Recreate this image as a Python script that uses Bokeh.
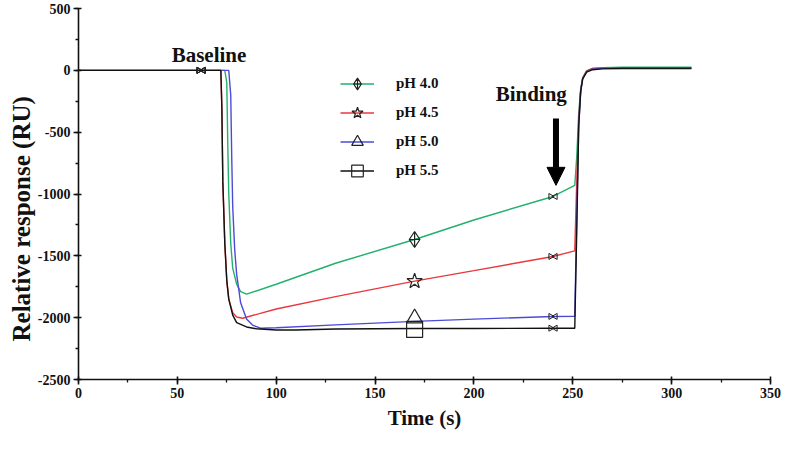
import numpy as np
from bokeh.plotting import figure
from bokeh.models import (Range1d, SingleIntervalTicker, Legend, LegendItem, Arrow, NormalHead,
                          Label, PrintfTickFormatter, Title)
from bokeh.embed import file_html
from bokeh.resources import INLINE

# ---- data ----
t_ph40 = [0, 74, 75, 75.5, 76, 77, 78, 80, 82, 85, 100, 130, 170, 200, 240, 251, 252, 253, 254, 255, 257, 260, 265, 275, 310]
y_ph40 = [0, 0, -100, -600, -1000, -1400, -1600, -1730, -1790, -1810, -1730, -1560, -1368, -1210, -1020, -930, -700, -350, -150, -60, -5, 15, 22, 25, 25]

t_ph45 = [0, 72, 72.5, 73, 74, 75, 76, 78, 80, 83, 100, 130, 170, 200, 240, 251, 252, 253, 254, 255, 257, 260, 265, 275, 310]
y_ph45 = [0, 0, -300, -900, -1400, -1700, -1850, -1960, -1995, -2005, -1930, -1830, -1705, -1620, -1505, -1460, -900, -400, -160, -60, -5, 15, 20, 22, 22]

t_ph50 = [0, 76, 77, 77.5, 78, 79, 80, 82, 85, 88, 92, 100, 130, 170, 200, 240, 251, 252, 253, 254, 255, 257, 260, 265, 275, 310]
y_ph50 = [0, 0, -200, -700, -1100, -1450, -1650, -1880, -2010, -2060, -2085, -2082, -2058, -2030, -2012, -1990, -1988, -1200, -450, -170, -70, -10, 10, 16, 18, 18]

t_ph55 = [0, 72, 72.5, 73, 74, 75, 76, 78, 80, 85, 90, 100, 110, 130, 170, 200, 240, 251, 252, 253, 254, 255, 257, 260, 265, 275, 310]
y_ph55 = [0, 0, -300, -900, -1400, -1700, -1850, -1980, -2040, -2075, -2090, -2100, -2100, -2092, -2088, -2088, -2085, -2085, -1300, -450, -170, -70, -15, 5, 12, 15, 15]

marker_t = [170, 170, 170, 170]
marker_y = [-1368, -1705, -2005, -2095]
event_t = [62, 240]
event_y_ph40 = [0, -1020]
event_y_ph45 = [0, -1505]
event_y_ph50 = [0, -1990]
event_y_ph55 = [0, -2085]

labels = ["pH 4.0", "pH 4.5", "pH 5.0", "pH 5.5"]
colors = ["#22b06c", "#e8383d", "#4b4bd6", "#111111"]
markers = ["diamond_cross", "star", "triangle", "square"]

FONT = "Liberation Serif"

p = figure(width=782, height=434, output_backend="svg", toolbar_location=None,
           x_range=Range1d(0, 350), y_range=Range1d(-2500, 500),
           min_border_left=78, min_border_right=12, min_border_top=8, min_border_bottom=55)
p.outline_line_color = None
p.grid.visible = False
p.background_fill_color = "white"
p.border_fill_color = "white"

for ax in (p.xaxis[0], p.yaxis[0]):
    ax.axis_line_width = 1.6
    ax.axis_line_color = "#111111"
    ax.major_tick_line_color = "#111111"
    ax.minor_tick_line_color = "#111111"
    ax.major_tick_line_width = 1.6
    ax.minor_tick_line_width = 1.3
    ax.major_tick_out = 5
    ax.major_tick_in = 3
    ax.minor_tick_out = 3
    ax.minor_tick_in = 0
    ax.major_label_text_font = FONT
    ax.major_label_text_font_style = "bold"
    ax.major_label_text_font_size = "14px"
    ax.major_label_text_color = "#111111"
    ax.major_label_standoff = 3
    ax.formatter = PrintfTickFormatter(format="%d")
    ax.axis_label_text_font = FONT
    ax.axis_label_text_font_style = "bold"
    ax.axis_label_text_color = "#111111"

p.xaxis.ticker = SingleIntervalTicker(interval=50, num_minor_ticks=2)
p.yaxis.ticker = SingleIntervalTicker(interval=500, num_minor_ticks=2)
p.xaxis.axis_label = "Time (s)"
p.xaxis.axis_label_text_font_size = "21px"
p.xaxis.axis_label_standoff = 5

p.add_layout(Title(text="Relative response (RU)", align="left", offset=38, standoff=0,
                   text_font=FONT, text_font_style="bold", text_font_size="25px",
                   text_color="#111111"), "left")

series = [(t_ph40, y_ph40, event_y_ph40), (t_ph45, y_ph45, event_y_ph45),
          (t_ph50, y_ph50, event_y_ph50), (t_ph55, y_ph55, event_y_ph55)]

items = []
for i, (t, y, ev) in enumerate(series):
    r_line = p.line(t, y, line_color=colors[i], line_width=1.4)
    ex = np.array(event_t, dtype=float)
    p.scatter(ex - 1.2, ev, marker="triangle", angle=-np.pi / 2, size=6,
              fill_color=None, line_color="#222222", line_width=1)
    p.scatter(ex + 1.2, ev, marker="triangle", angle=np.pi / 2, size=6,
              fill_color=None, line_color="#222222", line_width=1)
    r_mark = p.scatter([marker_t[i]], [marker_y[i]], marker=markers[i], size=16,
                       fill_color="white", fill_alpha=0.0, line_color="#222222", line_width=1.2)
    items.append(LegendItem(label=labels[i], renderers=[r_line, r_mark]))

legend = Legend(items=items, location=(262, 194), orientation="vertical",
                glyph_width=34, glyph_height=29, spacing=0, label_standoff=22,
                padding=0, margin=0, border_line_color=None, background_fill_alpha=0,
                label_text_font=FONT, label_text_font_style="bold",
                label_text_font_size="15px", label_text_color="#111111")
p.add_layout(legend, "center")

p.add_layout(Label(x=66, y=126, text="Baseline", text_font=FONT, text_font_style="bold",
                   text_font_size="21px", text_align="center", text_baseline="middle",
                   text_color="#111111"))
p.add_layout(Label(x=229, y=-195, text="Binding", text_font=FONT, text_font_style="bold",
                   text_font_size="21px", text_align="center", text_baseline="middle",
                   text_color="#111111"))
p.add_layout(Arrow(x_start=241.5, y_start=-390, x_end=241.5, y_end=-930,
                   line_width=6, line_color="black",
                   end=NormalHead(size=18, fill_color="black", line_color="black")))

open("out.html", "w").write(file_html(p, INLINE))
